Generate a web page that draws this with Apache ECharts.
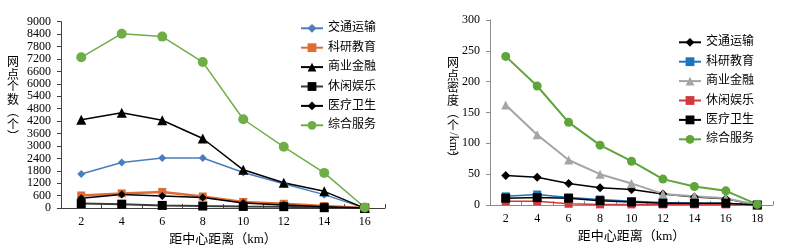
<!DOCTYPE html>
<html>
<head>
<meta charset="utf-8">
<script src="https://cdn.jsdelivr.net/npm/echarts@6/dist/echarts.min.js"></script>
<style>
  html, body { margin: 0; padding: 0; background: #fff; }
  #main { width: 785px; height: 251px; }
</style>
</head>
<body>
<div id="main"></div>
<script>
// 左图：网点个数
var distLeft = ['2', '4', '6', '8', '10', '12', '14', '16'];
var jiaotongL = [1650, 2200, 2420, 2420, 1720, 1180, 650, 0];
var keyanL = [610, 710, 780, 560, 300, 210, 100, 0];
var shangyeL = [4270, 4600, 4240, 3360, 1850, 1220, 810, 0];
var xiuxianL = [220, 190, 130, 100, 80, 70, 20, 0];
var yiliaoL = [480, 660, 590, 510, 250, 150, 60, 0];
var zongheL = [7280, 8420, 8280, 7050, 4290, 2960, 1700, 30];

// 右图：网点密度
var distRight = ['2', '4', '6', '8', '10', '12', '14', '16', '18'];
var jiaotongR = [48, 45, 35, 28, 25, 18, 13, 10, 0];
var keyanR = [14, 17, 12, 9, 6, 4, 3, 3, 0];
var shangyeR = [162, 114, 73, 50, 35, 18, 14, 11, 0];
var xiuxianR = [6, 6, 2, 1, 1, 1, 1, 1, 0];
var yiliaoR = [11, 12, 11, 7, 5, 3, 3, 3, 0];
var zongheR = [241, 193, 134, 97, 71, 42, 30, 23, 1];

var names = ['交通运输', '科研教育', '商业金融', '休闲娱乐', '医疗卫生', '综合服务'];
var SUF = '\u200b'; // 右图系列名后缀，避免和左图图例混用

var NUMFONT = 'Liberation Serif';
var FONT = "'Liberation Serif', 'Noto Sans CJK SC', serif";

var myChart = echarts.init(document.getElementById('main'));

function line(name, data, color, lineColor, width, symbol, size, xi) {
  return {
    name: name,
    type: 'line',
    xAxisIndex: xi,
    yAxisIndex: xi,
    data: data,
    symbol: symbol,
    symbolSize: size,
    itemStyle: { color: color },
    lineStyle: { color: lineColor, width: width },
    emphasis: { disabled: true }
  };
}

var series = [
  line(names[0], jiaotongL, '#4a7ebb', '#4a7ebb', 1.5, 'diamond', 8, 0),
  line(names[1], keyanL, '#dd6d35', '#dd6d35', 2.5, 'rect', 8, 0),
  line(names[2], shangyeL, '#000', '#000', 1.5, 'triangle', 10, 0),
  line(names[3], xiuxianL, '#000', '#3a3a3a', 2, 'rect', 9, 0),
  line(names[4], yiliaoL, '#000', '#000', 1.5, 'diamond', 8, 0),
  line(names[5], zongheL, '#70ad47', '#70ad47', 1.5, 'circle', 10, 0),

  line(names[0] + SUF, jiaotongR, '#000', '#000', 1.5, 'diamond', 9, 1),
  line(names[1] + SUF, keyanR, '#1e73be', '#1e73be', 1.5, 'rect', 8, 1),
  line(names[2] + SUF, shangyeR, '#a5a5a5', '#a5a5a5', 2, 'triangle', 9, 1),
  line(names[3] + SUF, xiuxianR, '#d0393e', '#d0393e', 1.5, 'rect', 8, 1),
  line(names[4] + SUF, yiliaoR, '#000', '#000', 1.5, 'rect', 9, 1),
  line(names[5] + SUF, zongheR, '#5fa53a', '#5fa53a', 2, 'circle', 9, 1)
];

function legend(left, top, data) {
  return {
    orient: 'vertical',
    left: left,
    top: top,
    itemWidth: 22,
    itemHeight: 11,
    itemGap: 7.4,
    selectedMode: false,
    data: data,
    formatter: function (n) { return n.replace(SUF, ''); },
    textStyle: { fontFamily: FONT, fontSize: 12, lineHeight: 12, color: '#000' }
  };
}

function xAxis(gi, cats, axisColor, nameGap) {
  return {
    type: 'category',
    gridIndex: gi,
    data: cats,
    boundaryGap: true,
    name: '距中心距离（km）',
    nameLocation: 'middle',
    nameGap: nameGap,
    nameTextStyle: { fontFamily: FONT, fontSize: 13, color: '#000' },
    axisLine: { lineStyle: { color: axisColor, width: 1 } },
    axisTick: { show: true, inside: true, length: 4, lineStyle: { color: axisColor } },
    axisLabel: { margin: 8, fontFamily: NUMFONT, fontSize: 12, color: '#000' },
    splitLine: { show: false }
  };
}

function yAxis(gi, max, interval, axisColor) {
  return {
    type: 'value',
    gridIndex: gi,
    min: 0,
    max: max,
    interval: interval,
    axisLine: { show: true, lineStyle: { color: axisColor, width: 1 } },
    axisTick: { show: true, length: 4, lineStyle: { color: axisColor } },
    axisLabel: {
      margin: 10, fontFamily: NUMFONT, fontSize: 12, color: '#000',
      formatter: function (v) { return String(v); }
    },
    splitLine: { show: false }
  };
}

// 竖排的纵轴标题，一个字一个元素
function vchars(x, y0, step, chars) {
  var out = [];
  for (var i = 0; i < chars.length; i++) {
    out.push({
      type: 'text', x: x, y: y0 + i * step,
      style: {
        text: chars[i], fill: '#000', align: 'center', verticalAlign: 'middle',
        font: "12px 'Noto Sans CJK SC', sans-serif"
      }
    });
  }
  return out;
}

var graphics = []
  .concat(vchars(13, 61.7, 12.5, ['网', '点', '个', '数', '︵', '个', '︶']))
  .concat(vchars(453, 62.7, 12.5, ['网', '点', '密', '度', '︵', '个']))
  .concat([
    {
      type: 'text', x: 453, y: 143.5, rotation: -Math.PI / 2,
      style: { text: '/km²', font: "12px 'Liberation Serif', serif", fill: '#000', align: 'center', verticalAlign: 'middle' }
    }
  ])
  .concat(vchars(453, 158, 12.5, ['︶']));

var option = {
  animation: false,
  backgroundColor: '#fff',
  grid: [
    { left: 61, top: 21.7, width: 324, height: 191.6 },
    { left: 490, top: 20, width: 283, height: 185 }
  ],
  xAxis: [
    xAxis(0, distLeft, '#404040', 20.5),
    xAxis(1, distRight, '#8c8c8c', 21.5)
  ],
  yAxis: [
    yAxis(0, 9000, 600, '#404040'),
    yAxis(1, 300, 50, '#8c8c8c')
  ],
  legend: [
    legend(295, 17.3, names),
    legend(673, 31.3, names.map(function (n) { return n + SUF; }))
  ],
  graphic: graphics,
  series: series
};

myChart.setOption(option);
</script>
</body>
</html>
